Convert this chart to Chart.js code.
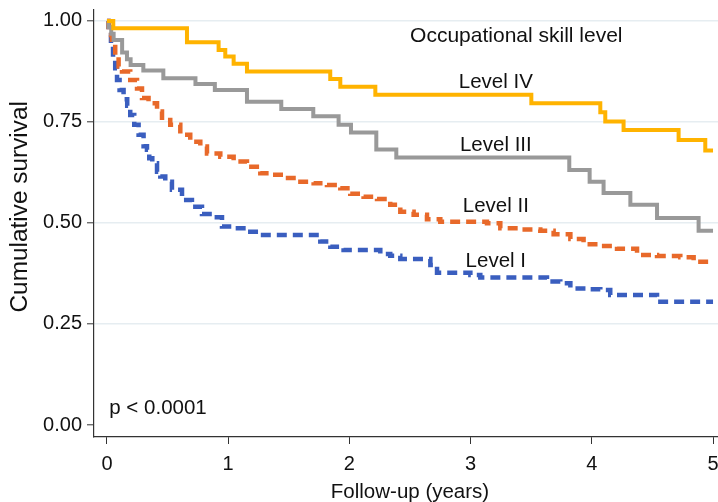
<!DOCTYPE html>
<html>
<head>
<meta charset="utf-8">
<script src="https://cdn.jsdelivr.net/npm/chart.js@4.4.0/dist/chart.umd.min.js"></script>
<style>
    html, body { margin: 0; padding: 0; background: #fff; }
    #wrap { width: 718px; height: 502px; position: relative; }
</style>
</head>
<body>
<div id="wrap"><canvas id="kmChart"></canvas></div>
<script>
// Kaplan-Meier curves, values (time in years, survival)
const levelIVTime = [0, 0.052, 0.660, 0.921, 0.976, 1.045, 1.155, 1.842, 1.925, 2.214, 3.501, 4.070, 4.111, 4.262, 4.716, 4.936, 5.0];
const levelIVSurv = [1.0, 0.982, 0.947, 0.928, 0.912, 0.894, 0.875, 0.856, 0.837, 0.817, 0.796, 0.774, 0.751, 0.730, 0.705, 0.679, 0.679];

const levelIIITime = [0, 0.013, 0.035, 0.055, 0.125, 0.165, 0.195, 0.30, 0.465, 0.73, 0.89, 1.155, 1.438, 1.702, 1.911, 2.013, 2.222, 2.387, 3.814, 3.982, 4.097, 4.318, 4.538, 4.881, 5.0];
const levelIIISurv = [1.0, 0.985, 0.968, 0.953, 0.922, 0.905, 0.891, 0.877, 0.858, 0.844, 0.829, 0.800, 0.782, 0.764, 0.743, 0.724, 0.682, 0.662, 0.631, 0.602, 0.574, 0.545, 0.512, 0.481, 0.481];

const levelIITime = [0, 0.013, 0.041, 0.068, 0.096, 0.124, 0.192, 0.248, 0.289, 0.343, 0.413, 0.454, 0.522, 0.605, 0.687, 0.770, 0.825, 0.935, 1.045, 1.155, 1.265, 1.361, 1.457, 1.568, 1.705, 1.815, 1.925, 2.007, 2.117, 2.228, 2.337, 2.420, 2.530, 2.640, 2.750, 3.135, 3.245, 3.410, 3.575, 3.685, 3.823, 3.932, 4.070, 4.208, 4.373, 4.538, 4.730, 4.840, 5.0];
const levelIISurv = [1.0, 0.965, 0.945, 0.912, 0.887, 0.875, 0.854, 0.833, 0.809, 0.796, 0.776, 0.755, 0.743, 0.718, 0.701, 0.689, 0.672, 0.664, 0.652, 0.639, 0.623, 0.619, 0.611, 0.602, 0.598, 0.594, 0.586, 0.572, 0.565, 0.559, 0.545, 0.528, 0.520, 0.509, 0.503, 0.499, 0.487, 0.484, 0.481, 0.472, 0.460, 0.447, 0.443, 0.436, 0.421, 0.418, 0.415, 0.404, 0.404];

const levelITime = [0, 0.013, 0.033, 0.050, 0.068, 0.083, 0.104, 0.137, 0.167, 0.192, 0.225, 0.261, 0.302, 0.330, 0.349, 0.374, 0.413, 0.440, 0.481, 0.536, 0.619, 0.701, 0.784, 0.866, 0.949, 1.045, 1.155, 1.265, 1.760, 1.843, 1.952, 2.255, 2.337, 2.420, 2.668, 2.723, 2.998, 3.080, 3.630, 3.740, 3.823, 3.960, 4.070, 4.152, 4.538, 5.0];
const levelISurv = [1.0, 0.965, 0.936, 0.903, 0.883, 0.854, 0.829, 0.806, 0.790, 0.767, 0.743, 0.718, 0.690, 0.681, 0.660, 0.648, 0.627, 0.615, 0.602, 0.582, 0.557, 0.540, 0.522, 0.514, 0.491, 0.487, 0.478, 0.470, 0.454, 0.441, 0.433, 0.423, 0.419, 0.411, 0.396, 0.377, 0.371, 0.365, 0.355, 0.351, 0.338, 0.336, 0.334, 0.322, 0.305, 0.305];

const levelNames = ['Level IV', 'Level III', 'Level II', 'Level I'];
const xTicks = [0, 1, 2, 3, 4, 5];
const yTicks = [0, 0.25, 0.5, 0.75, 1];

const FONT = '"Liberation Sans", Arial, sans-serif';

function toPoints(times, surv) {
    return times.map((t, i) => ({ x: t, y: surv[i] }));
}

// text labels placed in data coordinates
const annotationPlugin = {
    id: 'annotations',
    afterDraw(chart) {
        const ctx = chart.ctx;
        const xs = chart.scales.x;
        const ys = chart.scales.y;
        ctx.save();
        ctx.fillStyle = '#111';
        ctx.textAlign = 'center';
        ctx.textBaseline = 'middle';
        ctx.font = '21px ' + FONT;
        ctx.fillText('Occupational skill level', xs.getPixelForValue(3.377), ys.getPixelForValue(0.963));

        ctx.font = '20.5px ' + FONT;
        const labelY = [0.849, 0.693, 0.542, 0.406];
        levelNames.forEach((name, i) => {
            ctx.fillText(name, xs.getPixelForValue(3.208), ys.getPixelForValue(labelY[i]));
        });

        ctx.textAlign = 'left';
        ctx.fillText('p < 0.0001', xs.getPixelForValue(0.019), ys.getPixelForValue(0.04));

        // axis titles
        ctx.textAlign = 'center';
        ctx.fillText('Follow-up (years)', xs.getPixelForValue(2.5), 492);

        ctx.translate(20, ys.getPixelForValue(0.54));
        ctx.rotate(-Math.PI / 2);
        ctx.font = '24.4px ' + FONT;
        ctx.fillText('Cumulative survival', 0, 0);
        ctx.restore();
    }
};

document.addEventListener('DOMContentLoaded', function() {
    const ctx = document.getElementById('kmChart').getContext('2d');

    const solid = (label, times, surv, color) => ({
        label: label,
        data: toPoints(times, surv),
        borderColor: color,
        borderWidth: 4,
        stepped: 'before',
        pointRadius: 0,
        fill: false
    });
    const dashed = (label, times, surv, color) => Object.assign(solid(label, times, surv, color), {
        borderWidth: 4.5,
        borderDash: [10, 6]
    });

    new Chart(ctx, {
        type: 'line',
        data: {
            datasets: [
                solid(levelNames[0], levelIVTime, levelIVSurv, '#FFB300'),
                solid(levelNames[1], levelIIITime, levelIIISurv, '#999999'),
                dashed(levelNames[2], levelIITime, levelIISurv, '#E8692A'),
                dashed(levelNames[3], levelITime, levelISurv, '#3A5EBF')
            ]
        },
        options: {
            responsive: true,
            maintainAspectRatio: false,
            animation: false,
            devicePixelRatio: 1,
            layout: { padding: { top: 10, right: 0, left: 0, bottom: 0 } },
            plugins: {
                legend: { display: false },
                tooltip: { enabled: false }
            },
            scales: {
                x: {
                    type: 'linear',
                    min: -0.107,
                    max: 5.041,
                    afterBuildTicks: scale => { scale.ticks = xTicks.map(v => ({ value: v })); },
                    afterFit: scale => {
                        scale.height = 65;
                        scale.paddingLeft = 0;
                        scale.paddingRight = 0;
                    },
                    grid: {
                        drawOnChartArea: false,
                        drawTicks: true,
                        tickLength: 7,
                        tickColor: '#333',
                        tickWidth: 1
                    },
                    border: { display: true, color: '#333', width: 1.2 },
                    ticks: {
                        color: '#111',
                        font: { family: FONT, size: 20 },
                        padding: 8,
                        maxRotation: 0,
                        callback: v => String(v)
                    }
                },
                y: {
                    type: 'linear',
                    min: -0.0297,
                    max: 1.027,
                    afterBuildTicks: scale => { scale.ticks = yTicks.map(v => ({ value: v })); },
                    afterFit: scale => {
                        scale.width = 94;
                        scale.paddingTop = 0;
                        scale.paddingBottom = 0;
                    },
                    grid: {
                        color: c => (c.tick && c.tick.value === 0) ? 'rgba(0,0,0,0)' : '#e6edf1',
                        lineWidth: 1.6,
                        tickLength: 7,
                        tickColor: '#333',
                        tickWidth: 1
                    },
                    border: { display: true, color: '#333', width: 1.2 },
                    ticks: {
                        color: '#111',
                        font: { family: FONT, size: 20 },
                        padding: 5,
                        callback: v => Number(v).toFixed(2)
                    }
                }
            }
        },
        plugins: [annotationPlugin]
    });
});
</script>
</body>
</html>
